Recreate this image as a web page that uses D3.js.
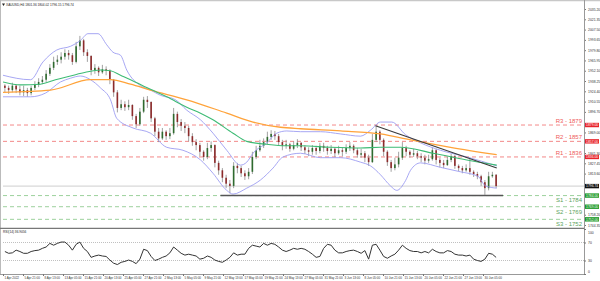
<!DOCTYPE html>
<html>
<head>
<meta charset="utf-8">
<script src="https://cdn.jsdelivr.net/npm/d3@7"></script>
<style>
  body { margin: 0; background: #fff; }
  svg { display: block; font-family: "Liberation Sans", Arial, sans-serif; }
</style>
</head>
<body>
<svg></svg>
<script>
/* chart values, one candle = 3 H4 bars */
const firstOpen = 1932;
const closes = [1929,1926,1932,1927,1923,1926,1922,1929,1933,1937, 1940,1948,1956,1964,1967,1971,1976,1973,1964,1985,
  1993,1977,1972,1953,1956,1950,1954,1952,1940,1923, 1902,1907,1903,1906,1891,1880,1897,1913,1910,1888,
  1870,1861,1870,1864,1868,1894,1883,1878,1875,1864, 1856,1852,1843,1836,1848,1852,1828,1818,1808,1800,
  1797,1824,1821,1814,1810,1816,1836,1845,1851,1856, 1863,1867,1864,1856,1851,1853,1847,1852,1855,1849,
  1845,1843,1848,1844,1851,1848,1844,1847,1841,1845, 1843,1848,1851,1845,1839,1841,1835,1829,1859,1870,
  1859,1843,1829,1821,1826,1835,1848,1843,1839,1841, 1837,1835,1831,1833,1845,1832,1828,1825,1832,1837,
  1824,1821,1818,1821,1816,1813,1810,1802,1794,1810, 1812,1796.74];
const highs = [1934,1932,1936,1933,1932,1932,1929,1932,1938,1942, 1945,1953,1961,1971,1973,1977,1981,1980,1976,1991,
  1999,1995,1981,1973,1961,1958,1960,1958,1954,1941, 1926,1913,1911,1913,1907,1894,1902,1917,1918,1911,
  1890,1875,1875,1872,1875,1902,1897,1887,1883,1878, 1868,1860,1855,1845,1855,1857,1853,1831,1821,1812,
  1805,1829,1828,1824,1818,1821,1843,1851,1859,1861, 1870,1872,1871,1867,1859,1859,1855,1857,1860,1856,
  1852,1849,1852,1851,1855,1855,1851,1852,1849,1851, 1849,1853,1856,1853,1848,1847,1844,1839,1867,1878,
  1872,1861,1845,1832,1835,1843,1856,1851,1845,1847, 1844,1841,1839,1839,1849,1847,1835,1832,1836,1840,
  1839,1826,1824,1826,1835,1818,1816,1812,1805,1816, 1816,1813];
const lows = [1923,1921,1923,1922,1919,1918,1917,1919,1926,1930, 1934,1937,1945,1953,1960,1962,1967,1967,1960,1962,
  1980,1972,1964,1946,1948,1945,1948,1946,1934,1917, 1896,1899,1898,1899,1886,1875,1878,1895,1902,1883,
  1864,1856,1859,1859,1860,1866,1876,1871,1868,1857, 1851,1845,1837,1831,1833,1843,1822,1812,1802,1794,
  1787,1794,1814,1809,1805,1806,1813,1833,1843,1848, 1853,1859,1859,1851,1845,1847,1843,1845,1848,1844,
  1840,1837,1839,1839,1841,1843,1839,1840,1836,1839, 1837,1840,1844,1841,1835,1835,1829,1824,1828,1856,
  1853,1837,1824,1816,1818,1822,1832,1837,1835,1836, 1833,1829,1826,1828,1831,1826,1822,1821,1824,1829,
  1820,1817,1814,1816,1812,1809,1806,1797,1785,1791, 1808,1794];
const rsiValues = [50,46,47,53,50,46,46,50,52,53, 57,60,68,64,68,71,71,64,53,66,
  71,57,50,37,40,42,40,39,31,24, 21,26,28,31,28,23,33,55,52,39,
  30,33,37,40,47,60,53,46,42,44, 42,40,33,35,40,37,31,28,26,31,
  37,47,42,44,44,57,64,62,60,68, 64,68,66,60,53,50,53,57,55,57,
  55,50,44,37,39,57,66,64,53,47, 47,50,52,53,50,46,52,33,64,66,
  53,39,35,40,44,53,64,57,52,50, 50,47,50,47,55,50,47,47,52,50,
  44,42,42,40,42,33,30,28,33,46, 44,36.9];

// indicator lines, [H4 bar, price]
const maFast = [[0,1937],[14,1933],[30,1934],[42,1940],[54,1945],[66,1950],[78,1953],[86,1952],[94,1946],[102,1940],
  [118,1927],[131,1917],[147,1903],[158,1895],[168,1886],[184,1868],[195,1857],[211,1853],[226,1851],[238,1851],
  [262,1849],[286,1848],[302,1849],[318,1849],[344,1841],[371,1832],[395,1825]];
const maSlow = [[0,1923],[38,1926],[70,1940],[86,1940],[102,1934],[118,1926],[147,1913],[179,1895],[200,1883],
  [222,1876],[238,1874],[270,1871],[302,1867],[326,1859],[358,1849],[395,1839]];
const bandUpper = [[0,1946],[22,1940],[32,1964],[43,1980],[54,1985],[62,1993],[68,2002],[76,2002],[83,1987],[88,1977],
  [94,1973],[99,1953],[110,1932],[118,1926],[126,1919],[138,1913],[147,1899],[158,1886],[168,1868],[179,1845],
  [190,1825],[195,1829],[200,1841],[211,1855],[219,1868],[227,1871],[238,1870],[254,1870],[270,1867],[286,1864],
  [294,1872],[302,1883],[311,1883],[322,1866],[334,1855],[350,1845],[371,1836],[395,1824]];
const bandLower = [[0,1917],[22,1917],[34,1922],[46,1937],[54,1942],[62,1945],[70,1940],[78,1929],[86,1913],[91,1888],
  [104,1875],[118,1868],[131,1849],[144,1845],[158,1832],[168,1814],[179,1791],[184,1786],[195,1794],[206,1805],
  [216,1821],[224,1836],[238,1841],[254,1835],[270,1835],[286,1829],[294,1824],[302,1812],[310,1797],[315,1791],
  [322,1804],[326,1818],[334,1828],[350,1822],[366,1816],[380,1810],[386,1797],[395,1794]];
const trendLine = [[298,1878],[395,1821]];
const supportLine = [[174,1784],[400,1784]];

const resistances = [1879, 1857, 1836];
const resistanceNames = ["R3", "R2", "R1"];
const supports = [1784, 1769, 1752];
const supportNames = ["S1", "S2", "S3"];

const priceTicks = [2035.20,2021.35,2007.50,1993.65,1979.80,1965.95,1952.10,1938.25,1924.40,1910.55,1896.70,
  1882.85,1869.00,1855.15,1841.30,1827.45,1813.60,1799.75,1785.90,1772.05,1758.20,1744.35];
const rsiTicks = [100, 70, 30, 0];
const dateLabels = ["1 Apr 2022","5 Apr 21:00","8 Apr 13:00","13 Apr 05:00","15 Apr 21:00","20 Apr 13:00",
  "25 Apr 05:00","27 Apr 21:00","2 May 13:00","5 May 05:00","9 May 21:00","12 May 13:00","17 May 05:00",
  "19 May 21:00","24 May 13:00","27 May 05:00","31 May 21:00","3 Jun 13:00","8 Jun 05:00","10 Jun 21:00",
  "15 Jun 13:00","20 Jun 05:00","22 Jun 21:00","27 Jun 13:00","30 Jun 05:00"];
const headerText = "XAUUSD,H4  1801.36 1804.02 1796.15 1796.74";
const rsiTitle = "RSI(14) 36.9056";

let width = 600;
let height = 281;
const plotLeft = 3, plotRight = 584;
const mainTop = 1, mainBottom = 227.5;
const rsiTop = 229, rsiBottom = 274;

const svg = d3.select("svg").attr("width", width).attr("height", height);

const xScale = d3.scaleLinear().domain([0, 400]).range([3, 503]);
const yScale = d3.scaleLinear().domain([1741, 2046]).range([mainBottom, mainTop]);
const rsiScale = d3.scaleLinear().domain([0, 100]).range([rsiBottom, rsiTop]);

const lastPrice = closes[closes.length - 1];
const tagPrices = resistances.concat(supports, [lastPrice]);

svg.append("clipPath").attr("id", "mainClip").append("rect")
  .attr("x", plotLeft).attr("y", mainTop).attr("width", plotRight - plotLeft).attr("height", mainBottom - mainTop);

const main = svg.append("g").attr("clip-path", "url(#mainClip)");

// horizontal levels
const levelLine = (v, color, dash) => {
  main.append("line").attr("x1", plotLeft).attr("x2", plotRight)
    .attr("y1", yScale(v)).attr("y2", yScale(v))
    .attr("stroke", color).attr("stroke-width", 0.9).attr("stroke-dasharray", dash);
};
resistances.forEach(v => levelLine(v, "#f27a7a", "4,3"));
supports.forEach(v => levelLine(v, "#92cc92", "4,3"));
levelLine(lastPrice, "#c8c8c8", null);

const lineGen = d3.line().x(d => xScale(d[0])).y(d => yScale(d[1])).curve(d3.curveMonotoneX);
const drawLine = (pts, color, w) => {
  main.append("path").datum(pts).attr("d", lineGen)
    .attr("fill", "none").attr("stroke", color).attr("stroke-width", w);
};

// candles
const candles = closes.map((c, i) => ({
  i: i, o: i ? closes[i - 1] : firstOpen, h: highs[i], l: lows[i], c: c
}));
const cg = main.append("g");
cg.selectAll("line.wick").data(candles).enter().append("line").attr("class", "wick")
  .attr("x1", d => xScale(3 * d.i + 1.5)).attr("x2", d => xScale(3 * d.i + 1.5))
  .attr("y1", d => yScale(d.h)).attr("y2", d => yScale(d.l))
  .attr("stroke", "#8a8a8a").attr("stroke-width", 0.8);
cg.selectAll("rect").data(candles).enter().append("rect")
  .attr("x", d => xScale(3 * d.i + 1.5) - 0.8)
  .attr("width", 1.6)
  .attr("y", d => yScale(Math.max(d.o, d.c)))
  .attr("height", d => Math.max(0.6, Math.abs(yScale(d.o) - yScale(d.c))))
  .attr("fill", d => d.c >= d.o ? "#2f6b2f" : "#8c2b2b");

drawLine(bandUpper, "#9d9df2", 0.9);
drawLine(bandLower, "#9d9df2", 0.9);
drawLine(maSlow, "#ffa33a", 1.3);
drawLine(maFast, "#3dbb74", 1.1);

const straight = d3.line().x(d => xScale(d[0])).y(d => yScale(d[1]));
main.append("path").datum(trendLine).attr("d", straight).attr("stroke", "#3a3a3a").attr("stroke-width", 1.1);
main.append("path").datum(supportLine).attr("d", straight).attr("stroke", "#555").attr("stroke-width", 1.4);

// level captions
resistances.forEach((v, i) => {
  svg.append("text").attr("x", 582).attr("y", yScale(v) - 2).attr("text-anchor", "end")
    .attr("font-size", 6).attr("fill", "#ee5a5a").text(resistanceNames[i] + " - " + v);
});
supports.forEach((v, i) => {
  svg.append("text").attr("x", 582).attr("y", yScale(v) + 6.8).attr("text-anchor", "end")
    .attr("font-size", 6).attr("fill", "#5da35d").text(supportNames[i] + " - " + v);
});

// price axis, labels sitting under a level tag are hidden like in the terminal
const shownTicks = priceTicks.filter(t => tagPrices.every(p => Math.abs(yScale(t) - yScale(p)) > 3));
const yAxis = d3.axisRight(yScale).tickValues(shownTicks).tickSize(2).tickFormat(d3.format(".2f"));
const yg = svg.append("g").attr("transform", "translate(" + plotRight + ",0)").call(yAxis);
yg.select(".domain").remove();
yg.selectAll("line").attr("stroke", "#777");
yg.selectAll("text").attr("font-size", 3.4).attr("fill", "#333").attr("x", 4).attr("font-family", null);

const tag = (v, color) => {
  svg.append("rect").attr("x", plotRight + 1).attr("y", yScale(v) - 2.2).attr("width", 14).attr("height", 4.4).attr("fill", color);
  svg.append("text").attr("x", plotRight + 2).attr("y", yScale(v) + 1.2).attr("font-size", 3.4).attr("fill", "#fff").text(d3.format(".2f")(v));
};
resistances.forEach(v => tag(v, "#e8232a"));
supports.forEach(v => tag(v, "#1f9a2a"));
tag(lastPrice, "#111");

// frame and panel separator
svg.append("line").attr("x1", 0).attr("x2", 600).attr("y1", 0.5).attr("y2", 0.5).attr("stroke", "#c8c8c8").attr("stroke-width", 1.5);
svg.append("line").attr("x1", plotRight + 0.5).attr("x2", plotRight + 0.5).attr("y1", 0).attr("y2", rsiBottom).attr("stroke", "#999");
svg.append("line").attr("x1", 0.5).attr("x2", 0.5).attr("y1", 0).attr("y2", rsiBottom).attr("stroke", "#bbb");
svg.append("line").attr("x1", 0).attr("x2", plotRight).attr("y1", 228.3).attr("y2", 228.3).attr("stroke", "#777").attr("stroke-width", 1.3);
svg.append("line").attr("x1", 0).attr("x2", plotRight + 1).attr("y1", rsiBottom + 0.5).attr("y2", rsiBottom + 0.5).attr("stroke", "#999");

// header
svg.append("path").attr("d", "M2,3.5 L5,3.5 L3.5,6 Z").attr("fill", "#222");
svg.append("text").attr("x", 6).attr("y", 6).attr("font-size", 3.2).attr("fill", "#222").text(headerText);

// RSI panel
[70, 30].forEach(v => {
  svg.append("line").attr("x1", plotLeft).attr("x2", plotRight).attr("y1", rsiScale(v)).attr("y2", rsiScale(v))
    .attr("stroke", "#b0b0b0").attr("stroke-width", 0.8).attr("stroke-dasharray", "1,1");
});
const rsiLine = d3.line().x((d, i) => xScale(3 * i + 1.5)).y(d => rsiScale(d));
svg.append("path").datum(rsiValues).attr("d", rsiLine).attr("fill", "none").attr("stroke", "#333").attr("stroke-width", 1);
svg.append("text").attr("x", 3).attr("y", 233).attr("font-size", 3.2).attr("fill", "#222").text(rsiTitle);

const rAxis = d3.axisRight(rsiScale).tickValues(rsiTicks).tickSize(2);
const rg = svg.append("g").attr("transform", "translate(" + plotRight + ",0)").call(rAxis);
rg.select(".domain").remove();
rg.selectAll("line").attr("stroke", "#777");
rg.selectAll("text").attr("font-size", 3.4).attr("fill", "#333").attr("x", 4).attr("font-family", null)
  .attr("dy", d => d === 100 ? "1.4em" : d === 0 ? "-0.4em" : "0.32em");

// time axis
const xAxis = d3.axisBottom(xScale).tickValues(dateLabels.map((d, i) => i * 16)).tickSize(2)
  .tickFormat((d, i) => dateLabels[i]);
const xg = svg.append("g").attr("transform", "translate(0," + rsiBottom + ")").call(xAxis);
xg.select(".domain").remove();
xg.selectAll("line").attr("stroke", "#777");
xg.selectAll("text").attr("font-size", 3).attr("fill", "#333").attr("text-anchor", "start")
  .attr("x", 1).attr("y", 3).attr("font-family", null);
</script>
</body>
</html>
